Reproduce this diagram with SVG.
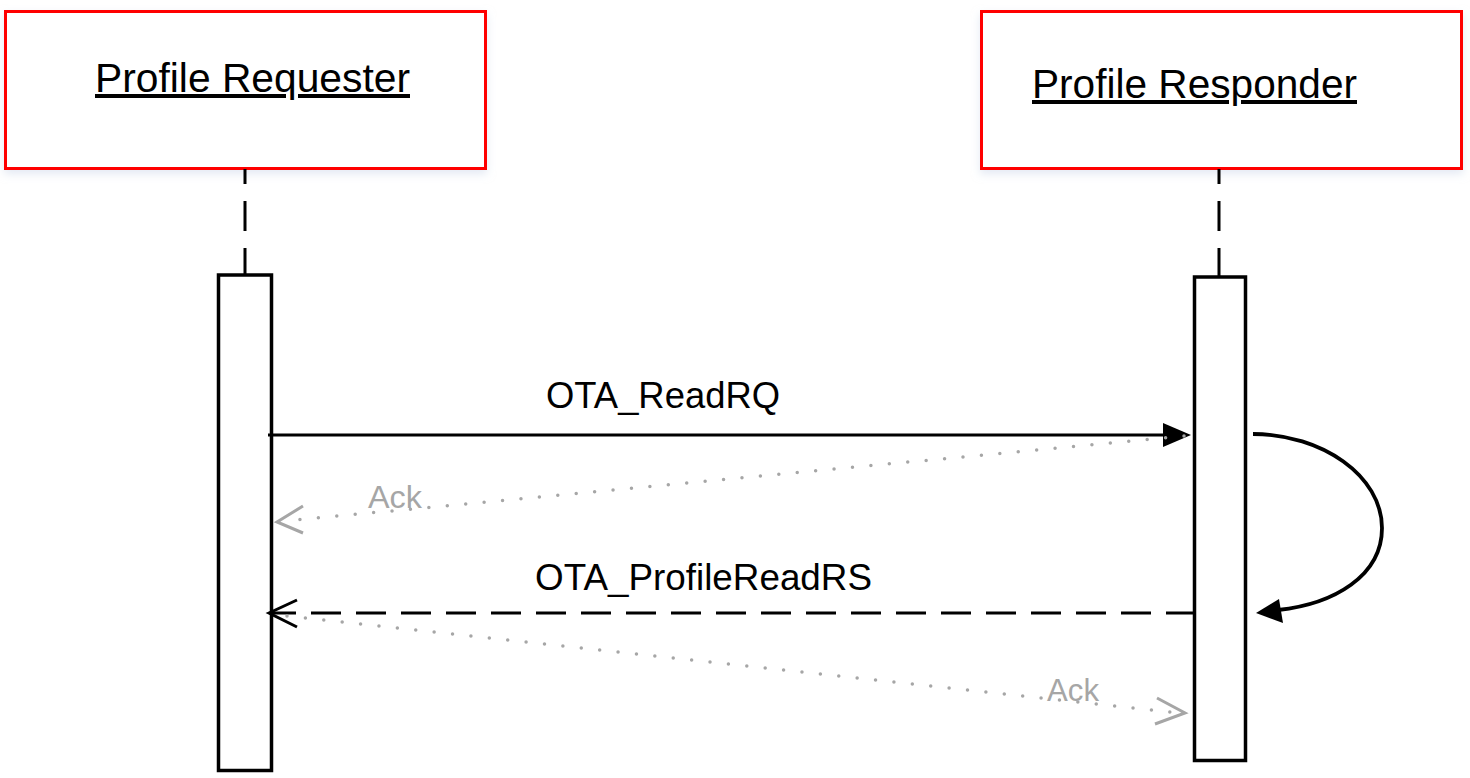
<svg xmlns="http://www.w3.org/2000/svg" width="1470" height="778" viewBox="0 0 1470 778">
<style>
.actor{fill:#ffffff;stroke:#ff0000;stroke-width:3}
.title{font-family:"Liberation Sans",Arial,sans-serif;font-size:40px;fill:#000;text-decoration:underline}
.life{stroke:#000;stroke-width:3;stroke-dasharray:30 17;fill:none}
.act{fill:#ffffff;stroke:#000;stroke-width:3.5}
.msg{stroke:#000;stroke-width:3;fill:none}
.loop{stroke:#000;stroke-width:3.8;fill:none}
.dash{stroke-dasharray:30 15}
.dot{stroke:#a6a6a6;stroke-width:3.5;stroke-linecap:round;stroke-dasharray:0 18.5;fill:none}
.ackhead{stroke:#a6a6a6;stroke-width:3;fill:none}
.lbl{font-family:"Liberation Sans",Arial,sans-serif;font-size:36px;fill:#000}
.ack{font-family:"Liberation Sans",Arial,sans-serif;font-size:31px;fill:#a6a6a6}
</style>
<defs>
<filter id="sh" x="-5%" y="-5%" width="110%" height="115%">
<feDropShadow dx="0" dy="4" stdDeviation="4" flood-color="#c8d4e8" flood-opacity="0.5"/>
</filter>
</defs>
<rect width="1470" height="778" fill="#ffffff"/>
<g id="requester">
<rect class="actor" x="5.5" y="11.5" width="480" height="157" filter="url(#sh)"/>
<text class="title" x="95" y="92" textLength="315" lengthAdjust="spacingAndGlyphs">Profile Requester</text>
<line class="life" x1="245" y1="169" x2="245" y2="275" stroke-dashoffset="15"/>
<rect class="act" x="218.5" y="275" width="53" height="495.5"/>
</g>
<g id="responder">
<rect class="actor" x="981.5" y="11.5" width="480" height="157" filter="url(#sh)"/>
<text class="title" x="1032" y="98" textLength="325" lengthAdjust="spacingAndGlyphs">Profile Responder</text>
<line class="life" x1="1219" y1="169" x2="1219" y2="277" stroke-dashoffset="15"/>
<rect class="act" x="1194.5" y="277" width="51" height="483.5"/>
</g>
<g id="connectors">
<g id="readrq">
<line class="msg" x1="268" y1="435" x2="1166" y2="435"/>
<polygon points="1191,435 1163,423 1163,447" fill="#000"/>
<text class="lbl" x="546" y="408" textLength="234" lengthAdjust="spacingAndGlyphs">OTA_ReadRQ</text>
</g>
<g id="ack1">
<line class="dot" x1="1184" y1="436" x2="285" y2="521"/>
<polyline class="ackhead" points="303,506 277,522 303,533"/>
<text class="ack" x="368" y="508" textLength="54" lengthAdjust="spacingAndGlyphs">Ack</text>
</g>
<g id="selfloop">
<path class="loop" d="M1253,434 C1322,434 1382,476 1382,528 C1382,576 1334,604 1278,610"/>
<polygon points="1256,613 1279,599 1283,623" fill="#000"/>
</g>
<g id="readrs">
<line class="msg dash" x1="1196" y1="613" x2="272" y2="613"/>
<polyline class="msg" points="297,600 269,613 297,627"/>
<text class="lbl" x="535" y="590" textLength="337" lengthAdjust="spacingAndGlyphs">OTA_ProfileReadRS</text>
</g>
<g id="ack2">
<line class="dot" x1="287" y1="616" x2="1180" y2="713"/>
<polyline class="ackhead" points="1157,698 1185,713 1155,724"/>
<text class="ack" x="1047" y="701" textLength="52" lengthAdjust="spacingAndGlyphs">Ack</text>
</g>
</g>
</svg>
